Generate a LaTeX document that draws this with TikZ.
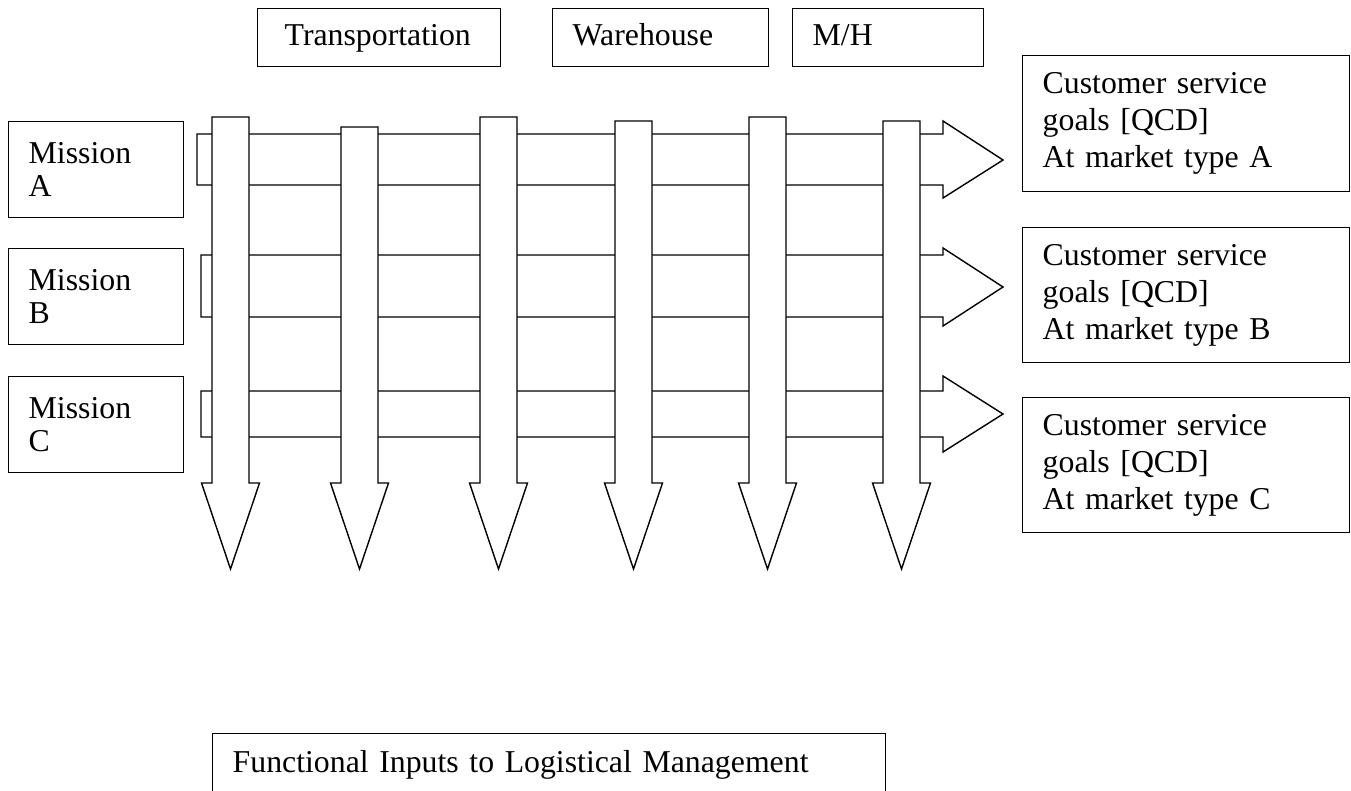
\documentclass[tikz,border=0pt]{standalone}
\usepackage{fontspec}
\setmainfont{Liberation Serif}
\tikzset{
	box/.style={draw, line width=1.4pt, anchor=north west, inner xsep=20pt, inner ysep=0pt, align=left, font=\fontsize{31.8}{37}\selectfont},
	labelbox/.style={box, minimum height=58pt, text height=22pt, text depth=7pt},
	missionbox/.style={box, minimum width=175pt, text width=135pt, minimum height=96pt, font=\fontsize{31.8}{33}\selectfont},
	goalbox/.style={box, minimum width=327pt, text width=287pt, minimum height=135pt},
	arrowbody/.style={draw, fill=white, line width=1.4pt, line join=miter},
}
% down arrow: (shaft left : shaft top)
\def\colarrow(#1:#2){\draw[arrowbody] (#1,#2) -- (#1+37,#2) -- (#1+37,483) -- (#1+47.5,483) -- (#1+18.5,569) -- (#1-10.5,483) -- (#1,483) -- cycle;}
% right arrow: (left : shaft top : shaft bottom)(head top : tip : head bottom)
\def\rowarrow(#1:#2:#3)(#4:#5:#6){\draw[arrowbody] (#1,#2) -- (943,#2) -- (943,#4) -- (1003,#5) -- (943,#6) -- (943,#3) -- (#1,#3) -- cycle;}

\begin{document}
\begin{tikzpicture}[x=1pt, y=-1pt]
		%%%%% START %%%%%
		\useasboundingbox (0,0) rectangle (1351,790);
		\clip (0,0) rectangle (1351,790);
		
		\node[labelbox, inner xsep=27pt, minimum width=243pt, text width=189pt] (trans) at (257,8) {Transportation};
		\node[labelbox, minimum width=216pt, text width=176pt] (ware) at (552,8) {Warehouse};
		\node[labelbox, minimum width=191pt, text width=151pt] (mh) at (792,8) {M/H};
		
		\node[missionbox] (misA) at (8,121) {Mission\\A};
		\node[missionbox] (misB) at (8,248) {Mission\\B};
		\node[missionbox] (misC) at (8,376) {Mission\\C};
		
		\node[goalbox, minimum height=136pt] (goalA) at (1022,55) {Customer service\\goals [QCD]\\At market type A};
		\node[goalbox] (goalB) at (1022,227) {Customer service\\goals [QCD]\\At market type B};
		\node[goalbox] (goalC) at (1022,397) {Customer service\\goals [QCD]\\At market type C};
		
		\rowarrow(197:134:185)(121:160:198)
		\rowarrow(201:255:317)(248:287:326)
		\rowarrow(201:391:437)(376:414:452)
		
		\colarrow(212:117)
		\colarrow(341:127)
		\colarrow(480:117)
		\colarrow(615:121)
		\colarrow(749:117)
		\colarrow(883:121)
		
		\node[box, minimum width=673pt, text width=633pt, minimum height=62pt, text height=22pt, text depth=7pt] (inputs) at (212,733) {Functional Inputs to Logistical Management};
		%%%%% END %%%%%
\end{tikzpicture}
\end{document}
